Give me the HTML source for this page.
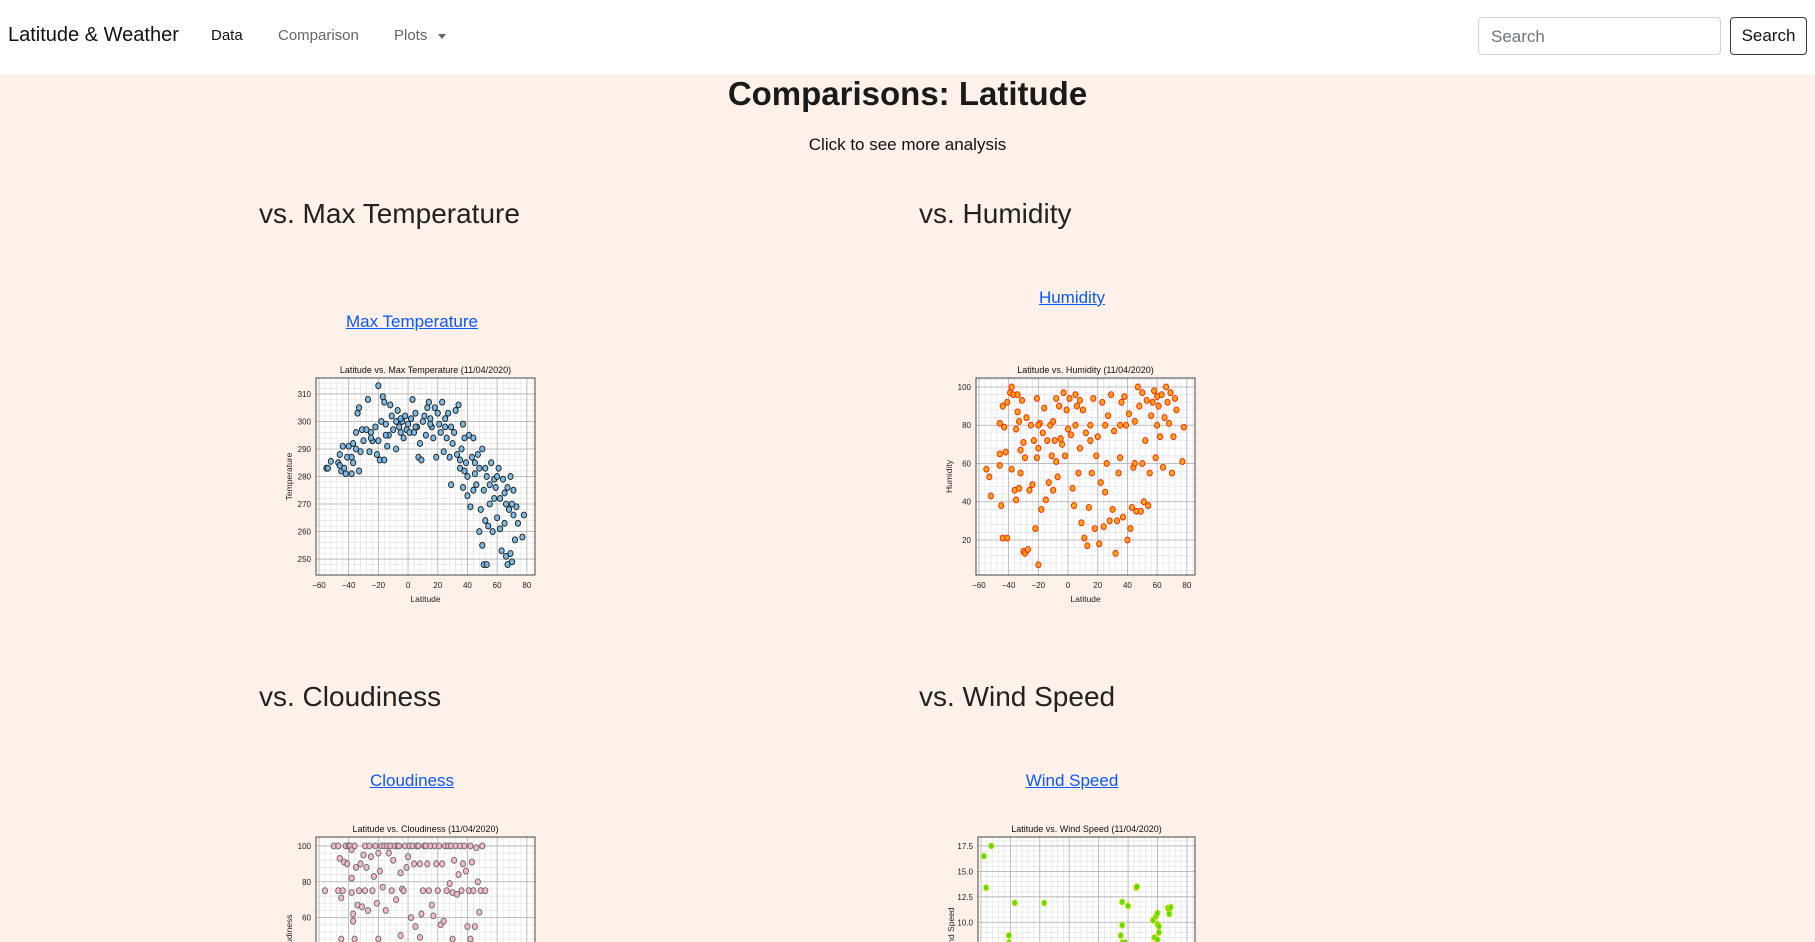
<!DOCTYPE html>
<html><head><meta charset="utf-8">
<style>
html,body{margin:0;padding:0;width:1815px;height:942px;overflow:hidden;background:#fdf1e9;font-family:"Liberation Sans",sans-serif;color:#212529}
.nav{position:absolute;left:0;top:0;width:1815px;height:74px;background:#fff}
.abs{position:absolute;white-space:nowrap}
a{color:#0a58ff;text-decoration:underline}
#charts{position:absolute;left:0;top:0;overflow:hidden}
</style></head><body>
<div class="nav">
  <div class="abs" style="left:8px;top:24px;font-size:20px;color:#111">Latitude &amp; Weather</div>
  <div class="abs" style="left:211px;top:27px;font-size:15px;color:#111">Data</div>
  <div class="abs" style="left:278px;top:27px;font-size:15px;color:#666">Comparison</div>
  <div class="abs" style="left:394px;top:27px;font-size:15px;color:#666">Plots <span style="display:inline-block;margin-left:6px;border-left:4px solid transparent;border-right:4px solid transparent;border-top:5px solid #666;vertical-align:middle"></span></div>
  <div class="abs" style="left:1478px;top:17px;width:243px;height:38px;border:1px solid #ced4da;border-radius:4px;box-sizing:border-box;font-size:17px;color:#6c757d;padding:9px 12px">Search</div>
  <div class="abs" style="left:1730px;top:17px;width:77px;height:38px;border:1px solid #343a40;border-radius:4px;box-sizing:border-box;font-size:17px;color:#111;text-align:center;line-height:36px">Search</div>
</div>
<div class="abs" style="left:0;width:1815px;text-align:center;top:75px;font-size:33px;font-weight:bold;color:#1a1a1a">Comparisons: Latitude</div>
<div class="abs" style="left:0;width:1815px;text-align:center;top:135px;font-size:17px;color:#111">Click to see more analysis</div>
<div class="abs" style="left:259px;top:198px;font-size:28px;color:#222">vs. Max Temperature</div>
<div class="abs" style="left:919px;top:198px;font-size:28px;color:#222">vs. Humidity</div>
<div class="abs" style="left:259px;top:681px;font-size:28px;color:#222">vs. Cloudiness</div>
<div class="abs" style="left:919px;top:681px;font-size:28px;color:#222">vs. Wind Speed</div>
<a class="abs" style="left:312px;width:200px;text-align:center;top:312px;font-size:17px">Max Temperature</a>
<a class="abs" style="left:972px;width:200px;text-align:center;top:288px;font-size:17px">Humidity</a>
<a class="abs" style="left:312px;width:200px;text-align:center;top:771px;font-size:17px">Cloudiness</a>
<a class="abs" style="left:972px;width:200px;text-align:center;top:771px;font-size:17px">Wind Speed</a>
<svg id="charts" width="1815" height="942"></svg>
<script>
const xTicks=[-60,-40,-20,0,20,40,60,80];
const tempTicks=[250,260,270,280,290,300,310];
const humTicks=[20,40,60,80,100];
const cloudTicks=[60,80,100];
const windTicks=["10.0","12.5","15.0","17.5"];
const tempData=[[-55,283],[-54,283],[-52,285.5],[-47,285],[-46,284],[-46,288],[-45,282],[-44,291],[-43,283],[-42,281],[-41,287],[-40,291],[-38,287],[-38,281],[-37,285],[-37,292],[-35,290],[-35,296],[-34,303],[-33,305],[-33,282],[-32,289],[-31,297],[-30,293],[-28,297],[-27,308],[-26,289],[-25,296],[-24,293],[-22,298],[-21,288],[-20,313],[-20,293],[-19,286],[-18,300],[-17,309],[-16,307],[-16,286],[-15,299],[-14,291],[-13,295],[-12,306],[-11,302],[-10,297],[-8,300],[-8,290],[-7,304],[-6,298],[-5,296],[-4,300],[-3,294],[-2,302],[-1,297],[0,299],[1,296],[2,301],[3,308],[4,296],[5,303],[6,298],[7,287],[8,292],[9,286],[10,300],[11,302],[12,295],[13,305],[14,307],[15,301],[16,298],[17,294],[18,305],[19,287],[20,303],[21,299],[22,296],[23,307],[24,289],[25,301],[26,294],[27,303],[28,287],[29,298],[29,277],[30,292],[31,296],[32,304],[33,288],[34,306],[35,283],[36,290],[37,276],[37,299],[38,294],[39,285],[40,280],[40,273],[41,295],[42,269],[43,287],[44,294],[45,281],[46,277],[47,288],[48,283],[48,260],[49,268],[50,290],[50,255],[51,275],[51,248],[52,283],[52,264],[53,248],[53,280],[54,262],[55,277],[56,285],[57,260],[58,279],[59,276],[60,265],[61,283],[62,272],[62,261],[63,253],[64,279],[65,274],[65,263],[66,251],[67,276],[67,248],[68,268],[69,280],[69,252],[70,270],[70,249],[71,275],[71,266],[72,257],[73,269],[74,263],[77,258],[78,266],[55,270],[45,285],[35,286],[25,298],[15,299],[5,298],[-5,301],[-15,295],[-25,294],[58,272],[60,280],[66,270],[44,275],[38,282]];
const humData=[[-55,57],[-53,53],[-52,43],[-46,81],[-46,65],[-46,59],[-45,38],[-44,90],[-44,21],[-43,79],[-42,66],[-41,92],[-41,21],[-39,97],[-38,100],[-38,57],[-37,96],[-36,46],[-35,41],[-35,78],[-34,96],[-34,87],[-33,47],[-33,82],[-32,55],[-32,67],[-31,93],[-30,71],[-30,14],[-29,63],[-29,13],[-28,84],[-27,15],[-26,46],[-25,80],[-24,49],[-23,72],[-22,26],[-21,94],[-21,63],[-20,7],[-20,68],[-19,81],[-18,36],[-17,76],[-16,89],[-15,41],[-14,72],[-13,50],[-12,80],[-11,64],[-10,46],[-9,72],[-8,94],[-8,61],[-7,53],[-6,90],[-5,73],[-4,70],[-3,97],[-2,64],[-1,88],[0,78],[1,94],[2,75],[3,47],[4,38],[5,96],[6,90],[7,55],[8,68],[8,93],[9,29],[10,88],[11,21],[12,76],[13,17],[14,37],[15,72],[16,55],[17,94],[18,26],[19,64],[20,74],[21,18],[22,50],[23,92],[24,27],[25,45],[26,60],[27,85],[28,30],[29,96],[30,36],[31,77],[32,13],[33,30],[34,55],[35,63],[36,92],[37,32],[38,95],[39,80],[40,20],[41,86],[42,26],[43,37],[44,58],[45,82],[46,35],[47,100],[48,90],[49,35],[50,97],[51,40],[52,72],[53,93],[54,38],[55,55],[56,85],[57,92],[58,98],[59,63],[60,80],[61,90],[62,74],[63,96],[64,58],[65,84],[66,100],[67,92],[68,81],[69,97],[70,55],[71,74],[72,94],[73,88],[78,79],[77,61],[5,80],[-10,82],[25,80],[45,60],[60,95],[50,60],[35,80],[15,80],[-20,80]];
const cloudData=[[-56,75],[-50,100],[-47,100],[-47,75],[-46,93],[-45,71],[-44,75],[-43,91],[-42,100],[-41,90],[-40,100],[-39,100],[-38,98],[-38,82],[-38,74],[-37,62],[-37,58],[-36,100],[-35,88],[-34,67],[-33,75],[-32,90],[-31,66],[-30,95],[-29,100],[-29,75],[-28,88],[-27,64],[-26,100],[-25,94],[-24,75],[-23,83],[-22,100],[-21,68],[-20,96],[-19,86],[-18,100],[-17,77],[-16,100],[-15,64],[-14,100],[-13,96],[-12,100],[-11,75],[-10,92],[-9,100],[-8,70],[-7,100],[-6,100],[-5,85],[-4,76],[-3,75],[-2,100],[-1,88],[0,94],[1,100],[2,60],[3,100],[4,90],[5,55],[6,100],[7,100],[8,90],[9,62],[10,75],[11,100],[12,100],[13,90],[14,75],[15,100],[16,67],[17,61],[18,100],[19,90],[20,75],[21,100],[22,56],[23,90],[24,58],[25,100],[26,75],[27,100],[28,79],[29,100],[30,74],[31,92],[32,100],[33,73],[34,84],[35,100],[36,75],[37,90],[38,100],[39,86],[40,55],[41,75],[42,100],[43,91],[44,75],[45,55],[46,99],[47,80],[48,63],[49,75],[50,100],[52,75],[-20,48],[-36,48],[-45,48],[8,49],[-5,50],[30,48],[42,48]];
const windData=[[-53,17.5],[-58,16.5],[-56.5,13.4],[-37,11.9],[-17,11.9],[36,12],[40,11.6],[45.5,13.4],[46,13.5],[-41,8.7],[-41,8],[36,9.7],[35,8.7],[36,8],[38,8],[57,10.2],[58,8.5],[59,10.6],[60,10.9],[60,9.8],[61,9.6],[60,8.3],[61,9],[67,11.4],[68,11.2],[68,10.8],[69,11.5],[57,7.8],[-41,7.5]];

const NS="http://www.w3.org/2000/svg";
const svg=document.getElementById('charts');
function mk(tag,attrs,parent){const e=document.createElementNS(NS,tag);for(const k in attrs)e.setAttribute(k,attrs[k]);(parent||svg).appendChild(e);return e;}
const FONT='"Liberation Sans Narrow","Liberation Sans",sans-serif';
function chart(c){
  const g=mk('g',{});
  
  
  const sx=v=>c.L+(v-c.x0)/(c.x1-c.x0)*(c.R-c.L);
  const sy=v=>c.B-(v-c.y0)/(c.y1-c.y0)*(c.B-c.T);
  mk('rect',{x:c.L,y:c.T,width:c.R-c.L,height:c.B-c.T,fill:'#fff'},g);
  for(let v=-60;v<=85;v+=4){if(v%20){mk('line',{x1:sx(v),x2:sx(v),y1:c.T,y2:c.B,stroke:'#e4e4e4','stroke-width':0.7},g);}}
  for(let v=c.minStart;v<=c.y1;v+=c.minStep){mk('line',{x1:c.L,x2:c.R,y1:sy(v),y2:sy(v),stroke:'#e4e4e4','stroke-width':0.7},g);}
  xTicks.forEach(v=>{const X=sx(v);mk('line',{x1:X,x2:X,y1:c.T,y2:c.B,stroke:'#b0b0b0','stroke-width':0.8},g);
    const t=mk('text',{x:X,y:c.B+13,'font-size':8,'text-anchor':'middle','font-family':FONT,fill:'#222'},g);t.textContent=String(v).replace('-','\u2212');});
  c.yTicks.forEach(s=>{const Y=sy(parseFloat(s));if(Y<c.T-2)return;mk('line',{x1:c.L,x2:c.R,y1:Y,y2:Y,stroke:'#b0b0b0','stroke-width':0.8},g);
    const t=mk('text',{x:c.L-5,y:Y+3,'font-size':8,'text-anchor':'end','font-family':FONT,fill:'#222'},g);t.textContent=s;});
  c.data.forEach(p=>{const pt=mk('ellipse',{cx:sx(p[0]),cy:sy(p[1]),rx:2.6,ry:3,fill:c.fill,stroke:c.edge,'stroke-width':0.9,'fill-opacity':0.9},g);
    
    });
  mk('rect',{x:c.L,y:c.T,width:c.R-c.L,height:c.B-c.T,fill:'none',stroke:'#333','stroke-width':0.9},g);
  const tt=mk('text',{x:(c.L+c.R)/2,y:c.T-5,'font-size':9,'text-anchor':'middle','font-family':FONT,fill:'#111'},g);tt.textContent=c.title;
  const xl=mk('text',{x:(c.L+c.R)/2,y:c.B+27,'font-size':8.5,'text-anchor':'middle','font-family':FONT,fill:'#222'},g);xl.textContent='Latitude';
  const yc=(c.T+c.B)/2;
  const yl=mk('text',{x:c.L-24,y:yc,'font-size':8.5,'text-anchor':'middle','font-family':'"Liberation Sans",sans-serif',fill:'#222',transform:`rotate(-90 ${c.L-24} ${yc})`},g);yl.textContent=c.ylabel;
}
chart({name:'max-temp-chart',L:316,R:535,T:378,B:575,x0:-62,x1:85.5,y0:244.2,y1:315.8,yTicks:tempTicks.map(String),minStart:246,minStep:2,data:tempData,fill:'#6cb4e4',edge:'#1a1a1a',title:'Latitude vs. Max Temperature (11/04/2020)',ylabel:'Temperature'});
chart({name:'humidity-chart',L:976,R:1195,T:378,B:575,x0:-62,x1:85.5,y0:1.7,y1:104.7,yTicks:humTicks.map(String),minStart:4,minStep:4,data:humData,fill:'#ff9a00',edge:'#ff2000',title:'Latitude vs. Humidity (11/04/2020)',ylabel:'Humidity'});
chart({name:'cloudiness-chart',L:316,R:535,T:837,B:1034,x0:-62,x1:85.5,y0:-5,y1:105,yTicks:cloudTicks.map(String),minStart:0,minStep:4,data:cloudData,fill:'#f4b3c0',edge:'#666',title:'Latitude vs. Cloudiness (11/04/2020)',ylabel:'Cloudiness'});
chart({name:'wind-speed-chart',L:978,R:1195,T:837,B:1024,x0:-62,x1:85.5,y0:0,y1:18.38,yTicks:windTicks,minStart:0,minStep:0.5,data:windData,fill:'#44dd00',edge:'#dddd00',title:'Latitude vs. Wind Speed (11/04/2020)',ylabel:'Wind Speed'});
</script>
</body></html>
